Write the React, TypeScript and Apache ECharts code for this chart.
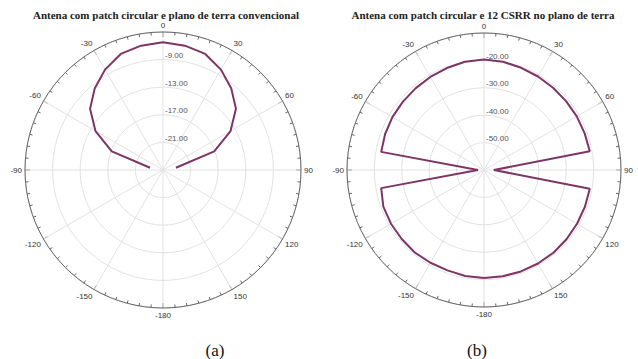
import React, { useEffect, useRef } from 'react';
import * as echarts from 'echarts';

// ---- data ----
const titles = [
  'Antena com patch circular e plano de terra convencional',
  'Antena com patch circular e 12 CSRR no plano de terra',
];
const captions = ['(a)', '(b)'];

// (a) conventional ground plane, degrees / dB
const anglesA = [-80, -70, -60, -50, -40, -30, -20, -10, 0, 10, 20, 30, 40, 50, 60, 70, 80];
const gainA = [-23.1, -17.1, -13.7, -11.2, -9.6, -8.2, -7.1, -6.7, -6.5, -6.7, -7.1, -8.2, -9.6, -11.2, -13.7, -17.1, -23.1];

// (b) 12 CSRR ground plane, degrees / dB
const anglesB = [
  -180, -170, -160, -150, -140, -130, -120, -110, -100, -90, -80, -70, -60, -50, -40, -30, -20, -10,
  0, 10, 20, 30, 40, 50, 60, 70, 80, 90, 100, 110, 120, 130, 140, 150, 160, 170, 180,
];
const gainB = [
  -20.6, -20.7, -21.0, -20.9, -20.7, -20.8, -20.8, -20.9, -21.9, -57.8, -21.9, -21.6, -21.4, -21.3, -21.1, -20.8, -20.4, -19.9,
  -19.7, -19.9, -20.3, -20.6, -20.8, -20.9, -20.9, -20.9, -20.8, -56.4, -20.8, -20.8, -20.8, -20.7, -20.6, -20.6, -20.6, -20.6, -20.6,
];

// radial scales (dB)
const radialA = { min: -25, max: -5, step: 4 };
const radialB = { min: -60, max: -10, step: 10 };

const toAxisAngle = (a: number) => (a < 0 ? a + 360 : a);
const angleLabel = (v: number) => {
  if (v === 360) return '';
  if (v === 180) return '-180';
  return String(v > 180 ? v - 360 : v);
};

const LINE_COLOR = '#7d3566';
const GRID_COLOR = '#e2e2e2';

function angleAxis(polarIndex: number) {
  return {
    polarIndex,
    type: 'value',
    min: 0,
    max: 360,
    interval: 30,
    startAngle: 90,
    clockwise: true,
    axisLine: { show: true, lineStyle: { color: '#666', width: 1 } },
    axisTick: { show: true, inside: true, length: 5, lineStyle: { color: '#666' } },
    minorTick: { show: true, splitNumber: 6, length: 3, lineStyle: { color: '#666' } },
    splitLine: { show: true, lineStyle: { color: GRID_COLOR, width: 1 } },
    axisLabel: {
      show: true,
      formatter: angleLabel,
      fontSize: 8,
      color: '#333',
      fontFamily: 'Liberation Sans, Arial, sans-serif',
      margin: 3,
    },
  };
}

function radiusAxis(polarIndex: number, scale: { min: number; max: number; step: number }, offset: number) {
  return {
    polarIndex,
    type: 'value',
    min: scale.min - offset,
    max: scale.max - offset,
    interval: scale.step,
    axisLine: { show: false },
    axisTick: { show: false },
    splitLine: { show: true, lineStyle: { color: GRID_COLOR, width: 1 } },
    axisLabel: {
      show: true,
      showMinLabel: false,
      showMaxLabel: false,
      formatter: (v: number) => (v + offset).toFixed(2),
      fontSize: 8,
      color: '#555',
      fontFamily: 'Liberation Sans, Arial, sans-serif',
      margin: -2,
      align: 'left',
      verticalAlign: 'bottom',
    },
  };
}

export default function App() {
  const ref = useRef<HTMLDivElement>(null);
  useEffect(() => {
    if (!ref.current) return;
    const chart = echarts.init(ref.current, undefined, { renderer: 'svg' });
    // (a) axis counts from 0 so that ticks fall on -25, -21, ... ; offset restores dB
    const offA = radialA.min;
    const offB = 0;
    const dataA = anglesA.map((a, i) => [gainA[i] - offA, toAxisAngle(a)]);
    const dataB = anglesB.map((a, i) => [gainB[i] - offB, toAxisAngle(a)]);
    const titleFont = 'bold 11px "Liberation Serif", "Times New Roman", serif';
    const capFont = '17px "Liberation Serif", "Times New Roman", serif';
    chart.setOption({
      animation: false,
      backgroundColor: '#fff',
      polar: [
        { center: [163, 170], radius: 138 },
        { center: [484, 170], radius: 137 },
      ],
      angleAxis: [angleAxis(0), angleAxis(1)],
      radiusAxis: [radiusAxis(0, radialA, offA), radiusAxis(1, radialB, offB)],
      series: [
        {
          type: 'line',
          coordinateSystem: 'polar',
          polarIndex: 0,
          data: dataA,
          symbol: 'none',
          lineStyle: { color: LINE_COLOR, width: 2 },
        },
        {
          type: 'line',
          coordinateSystem: 'polar',
          polarIndex: 1,
          data: dataB,
          symbol: 'none',
          lineStyle: { color: LINE_COLOR, width: 2 },
        },
      ],
      graphic: [
        {
          type: 'text',
          x: 166,
          y: 15,
          style: { text: titles[0], textAlign: 'center', textVerticalAlign: 'middle', font: titleFont, fill: '#222' },
        },
        {
          type: 'text',
          x: 483,
          y: 15,
          style: { text: titles[1], textAlign: 'center', textVerticalAlign: 'middle', font: titleFont, fill: '#222' },
        },
        {
          type: 'text',
          x: 215,
          y: 350,
          style: { text: captions[0], textAlign: 'center', textVerticalAlign: 'middle', font: capFont, fill: '#111' },
        },
        {
          type: 'text',
          x: 477,
          y: 350,
          style: { text: captions[1], textAlign: 'center', textVerticalAlign: 'middle', font: capFont, fill: '#111' },
        },
      ],
    });
    return () => chart.dispose();
  }, []);
  return (
    <div
      ref={ref}
      style={{ position: 'absolute', left: 0, top: 0, width: 638, height: 359 }}
    />
  );
}
